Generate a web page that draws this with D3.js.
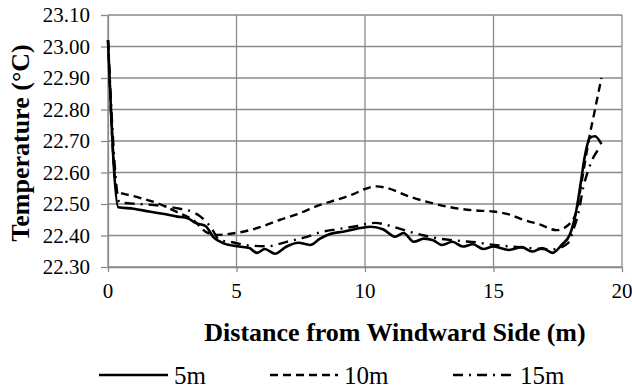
<!DOCTYPE html>
<html>
<head>
<meta charset="utf-8">
<script src="https://cdn.jsdelivr.net/npm/d3@7"></script>
</head>
<body style="margin:0">
<svg id="chart" width="632" height="390" style="display:block;font-family:'Liberation Serif'"></svg>
<script>
// Air temperature along the building, sampled at three heights
const dist5m = [0, 0.4, 1.0, 1.6, 2.2, 2.7, 3.1, 3.4, 3.8, 4.1, 4.5, 5.1, 5.5, 5.8, 6.1, 6.5, 6.95, 7.4, 7.86, 8.25, 8.64, 9.14, 9.6, 10.2, 10.7, 11.17, 11.5, 11.9, 12.3, 12.65, 13.0, 13.4, 13.8, 14.2, 14.6, 15.0, 15.6, 16.1, 16.5, 16.9, 17.3, 17.65, 17.98, 18.2, 18.4, 18.55, 18.75, 18.95, 19.2];
const temp5m = [23.02, 22.49, 22.485, 22.476, 22.468, 22.46, 22.455, 22.44, 22.43, 22.395, 22.375, 22.365, 22.36, 22.345, 22.357, 22.342, 22.365, 22.377, 22.37, 22.39, 22.405, 22.412, 22.42, 22.428, 22.42, 22.396, 22.408, 22.38, 22.39, 22.385, 22.37, 22.38, 22.365, 22.372, 22.357, 22.365, 22.354, 22.363, 22.349, 22.36, 22.345, 22.37, 22.405, 22.47, 22.57, 22.65, 22.71, 22.715, 22.69];

const dist10m = [0, 0.35, 1.0, 2.0, 2.8, 3.3, 3.84, 4.2, 4.9, 5.65, 6.04, 6.7, 7.34, 8.25, 8.64, 9.5, 10.2, 10.45, 10.8, 11.75, 12.5, 13.3, 14.2, 15.0, 15.6, 16.16, 16.8, 17.45, 18.0, 18.2, 18.45, 18.7, 18.95, 19.2];
const temp10m = [23.02, 22.54, 22.525, 22.5, 22.47, 22.45, 22.41, 22.402, 22.407, 22.42, 22.43, 22.45, 22.467, 22.497, 22.507, 22.53, 22.553, 22.556, 22.552, 22.523, 22.505, 22.49, 22.48, 22.476, 22.467, 22.45, 22.435, 22.417, 22.44, 22.47, 22.58, 22.70, 22.80, 22.90];

const dist15m = [0, 0.45, 1.2, 2.0, 2.8, 3.25, 3.6, 3.97, 4.36, 4.75, 5.5, 6.2, 6.95, 7.7, 8.25, 8.9, 9.7, 10.07, 10.4, 11.0, 11.6, 12.3, 12.9, 13.7, 14.35, 15.0, 15.7, 16.4, 17.3, 17.9, 18.1, 18.3, 18.5, 18.7, 18.9, 19.05];
const temp15m = [23.02, 22.505, 22.5, 22.495, 22.485, 22.476, 22.46, 22.43, 22.385, 22.38, 22.368, 22.366, 22.38, 22.395, 22.41, 22.42, 22.43, 22.437, 22.44, 22.43, 22.415, 22.40, 22.39, 22.383, 22.378, 22.37, 22.365, 22.36, 22.356, 22.376, 22.417, 22.47, 22.555, 22.61, 22.65, 22.67];

const seriesNames = ["5m", "10m", "15m"];
const xTicks = [0, 5, 10, 15, 20];
const yTicks = [22.30, 22.40, 22.50, 22.60, 22.70, 22.80, 22.90, 23.00, 23.10];

const series = [
  { name: seriesNames[0], x: dist5m,  y: temp5m,  dash: null,         width: 2.6 },
  { name: seriesNames[1], x: dist10m, y: temp10m, dash: "8,5",        width: 2.4 },
  { name: seriesNames[2], x: dist15m, y: temp15m, dash: "10,6,2,6",   width: 2.4 }
];

const tickStyle = "font-family:'Liberation Serif';font-size:21px";
const titleStyle = "font-family:'Liberation Serif';font-size:26px;font-weight:bold";
const legendStyle = "font-family:'Liberation Serif';font-size:25px";

const svg = d3.select("#chart");
const plotLeft = 108, plotRight = 622, plotTop = 15, plotBottom = 267;
const gridColor = "#8a8a8a";

const x = d3.scaleLinear().domain([0, 20]).range([plotLeft, plotRight]);
const y = d3.scaleLinear().domain([22.3, 23.1]).range([plotBottom, plotTop]);

// horizontal gridlines
svg.append("g").selectAll("line").data(yTicks).join("line")
  .attr("x1", plotLeft).attr("x2", plotRight)
  .attr("y1", d => y(d)).attr("y2", d => y(d))
  .attr("stroke", gridColor).attr("stroke-width", 1.3);

// vertical gridlines
svg.append("g").selectAll("line").data(xTicks).join("line")
  .attr("x1", d => x(d)).attr("x2", d => x(d))
  .attr("y1", plotTop).attr("y2", plotBottom)
  .attr("stroke", gridColor).attr("stroke-width", 1.3);

// axes: lines and tick marks from d3, labels placed with the same scales
const yAxis = d3.axisLeft(y).tickValues(yTicks).tickFormat("").tickSize(7).tickSizeOuter(0);
const gy = svg.append("g").attr("transform", `translate(${plotLeft},0)`).call(yAxis);
const xAxis = d3.axisBottom(x).tickValues(xTicks).tickFormat("").tickSize(5).tickSizeOuter(0);
const gx = svg.append("g").attr("transform", `translate(0,${plotBottom})`).call(xAxis);

[gx, gy].forEach(g => {
  g.select(".domain").attr("stroke", gridColor).attr("stroke-width", 1.3);
  g.selectAll(".tick line").attr("stroke", gridColor).attr("stroke-width", 1.3);
  g.selectAll(".tick text").remove();
});

const fmtY = d3.format(".2f");
svg.append("g").selectAll("text").data(yTicks).join("text")
  .attr("x", plotLeft - 18)
  .attr("y", d => y(d) + 7)
  .attr("text-anchor", "end")
  .attr("style", tickStyle)
  .text(d => fmtY(d));

svg.append("g").selectAll("text").data(xTicks).join("text")
  .attr("x", d => x(d))
  .attr("y", plotBottom + 31)
  .attr("text-anchor", "middle")
  .attr("style", tickStyle)
  .text(d => d);

// data lines
const line = d3.line()
  .x(d => x(d[0]))
  .y(d => y(d[1]))
  .curve(d3.curveMonotoneX);

series.forEach(s => {
  const pts = s.x.map((d, i) => [d, s.y[i]]);
  svg.append("path")
    .datum(pts)
    .attr("d", line)
    .attr("fill", "none")
    .attr("stroke", "#000")
    .attr("stroke-width", s.width)
    .attr("stroke-linejoin", "round")
    .attr("stroke-dasharray", s.dash);
});

// axis titles
svg.append("text")
  .attr("x", 395).attr("y", 341)
  .attr("text-anchor", "middle")
  .attr("style", titleStyle)
  .text("Distance from Windward Side (m)");

svg.append("text")
  .attr("transform", `translate(29,${(plotTop + plotBottom) / 2 + 2}) rotate(-90)`)
  .attr("text-anchor", "middle")
  .attr("style", titleStyle)
  .text("Temperature (°C)");

// legend
const legendX = [99, 270, 453];
const legendLen = [69, 68, 61];
const legend = svg.append("g");
series.forEach((s, i) => {
  legend.append("line")
    .attr("x1", legendX[i]).attr("x2", legendX[i] + legendLen[i])
    .attr("y1", 375).attr("y2", 375)
    .attr("stroke", "#000").attr("stroke-width", s.width)
    .attr("stroke-dasharray", s.dash);
  legend.append("text")
    .attr("x", legendX[i] + legendLen[i] + 6).attr("y", 384)
    .attr("style", legendStyle)
    .text(s.name);
});
</script>
</body>
</html>
